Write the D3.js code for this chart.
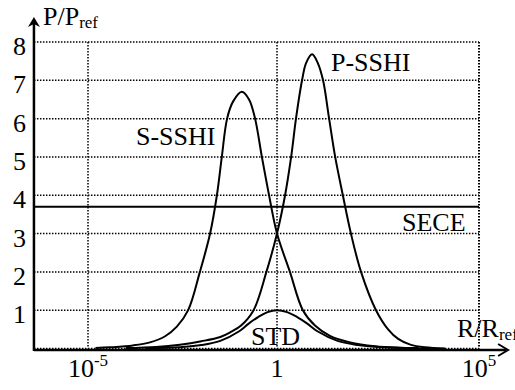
<!DOCTYPE html>
<html>
<head>
<meta charset="utf-8">
<script src="https://cdn.jsdelivr.net/npm/d3@7"></script>
<style>
  body { margin: 0; background: #fff; }
</style>
</head>
<body>
<div id="chart"></div>
<script>
// values, x in log10(R/Rref)
var yTicks = [1, 2, 3, 4, 5, 6, 7, 8];
var xTicks = [-5, 0, 5];

var sLogR = [-4.8, -4.42, -3.81, -3.36, -2.96, -2.65, -2.35, -2.04, -1.77, -1.59, -1.46, -1.32, -1.16, -0.93, -0.74, -0.58, -0.40, -0.21, 0, 0.32, 0.64, 0.94, 1.31, 1.81, 2.43, 3.04, 3.8];
var sP    = [0.01, 0.03, 0.08, 0.16, 0.32, 0.57, 1, 2, 3, 4, 5, 6, 6.45, 6.7, 6.5, 6, 5, 4, 3, 2, 1, 0.6, 0.33, 0.16, 0.06, 0.02, 0];

var pLogR = [-4.0, -3.2, -2.57, -2.0, -1.5, -1.24, -0.95, -0.62, -0.28, 0, 0.20, 0.35, 0.47, 0.62, 0.72, 0.87, 1.01, 1.14, 1.29, 1.44, 1.63, 1.83, 2.08, 2.45, 2.75, 3.0, 3.3, 3.66, 4.16];
var pP    = [0.01, 0.04, 0.1, 0.19, 0.3, 0.42, 0.6, 1, 2, 3, 4, 5, 6, 7, 7.45, 7.68, 7.45, 7, 6, 5, 4, 3, 2, 1, 0.5, 0.25, 0.1, 0.03, 0];

var stdLogR = [-3.5, -2.5, -2.0, -1.5, -1.0, -0.75, -0.5, -0.25, 0, 0.25, 0.5, 0.75, 1.0, 1.5, 2.0, 2.5, 3.5];
var stdP    = [0.01, 0.04, 0.09, 0.2, 0.45, 0.65, 0.82, 0.95, 1, 0.95, 0.82, 0.65, 0.45, 0.2, 0.09, 0.04, 0.01];

var seceP = 3.7;

var xStart = -6.43, xEnd = 5.72, yTop = 8.65;

var font = "'Liberation Serif', 'Times New Roman', serif";

var width = 515, height = 390;
var svg = d3.select("#chart").append("svg")
    .attr("width", width)
    .attr("height", height)
    .attr("font-family", font);

var x = d3.scaleLinear()
    .domain([-5, 0, 5])
    .range([88, 277, 479]);

var y = d3.scaleLinear()
    .domain([0, 8])
    .range([348.5, 42]);

// grid
svg.selectAll(".hgrid")
    .data([0].concat(yTicks))
    .enter()
    .append("line")
    .attr("x1", x(xStart))
    .attr("x2", x(5))
    .attr("y1", function (d) { return y(d); })
    .attr("y2", function (d) { return y(d); })
    .attr("stroke", "#000")
    .attr("stroke-width", 1.5)
    .attr("stroke-dasharray", "1.5,1.5");

svg.selectAll(".vgrid")
    .data(xTicks)
    .enter()
    .append("line")
    .attr("x1", function (d) { return x(d); })
    .attr("x2", function (d) { return x(d); })
    .attr("y1", y(8))
    .attr("y2", y(0))
    .attr("stroke", "#000")
    .attr("stroke-width", function (d) { return d == 5 ? 2 : 1.5; })
    .attr("stroke-dasharray", "1.5,1.5");

// SECE
svg.append("line")
    .attr("x1", x(xStart))
    .attr("x2", x(5))
    .attr("y1", y(seceP))
    .attr("y2", y(seceP))
    .attr("stroke", "#000")
    .attr("stroke-width", 2);

var line = d3.line()
    .x(function (d) { return x(d[0]); })
    .y(function (d) { return Math.min(y(d[1]), y(0)); })
    .curve(d3.curveCatmullRom.alpha(0.5));

var series = [
    d3.zip(sLogR, sP),
    d3.zip(pLogR, pP),
    d3.zip(stdLogR, stdP)
];

svg.selectAll(".curve")
    .data(series)
    .enter()
    .append("path")
    .attr("d", line)
    .attr("fill", "none")
    .attr("stroke", "#000")
    .attr("stroke-width", 2);

// axes
svg.append("line")
    .attr("x1", x(xStart))
    .attr("x2", x(xEnd) - 2)
    .attr("y1", y(0) + 1.5)
    .attr("y2", y(0) + 1.5)
    .attr("stroke", "#000")
    .attr("stroke-width", 2.5);

svg.append("line")
    .attr("x1", x(xStart))
    .attr("x2", x(xStart))
    .attr("y1", y(0) + 2.5)
    .attr("y2", y(yTop) + 3)
    .attr("stroke", "#000")
    .attr("stroke-width", 2.5);

var ax = x(xStart), ay = y(yTop);
svg.append("path")
    .attr("d", "M" + ax + "," + ay + "L" + (ax - 6) + "," + (ay + 10) + "L" + ax + "," + (ay + 7) + "L" + (ax + 6) + "," + (ay + 10) + "Z")
    .attr("fill", "#000");

var bx = x(xEnd), by = y(0) + 1.5;
svg.append("path")
    .attr("d", "M" + (bx - 10) + "," + (by - 6) + "L" + bx + "," + by + "L" + (bx - 10) + "," + (by + 6))
    .attr("fill", "none")
    .attr("stroke", "#000")
    .attr("stroke-width", 2);

// tick labels
svg.selectAll(".ylab")
    .data(yTicks)
    .enter()
    .append("text")
    .attr("x", 26)
    .attr("y", function (d) { return y(d) + 13; })
    .attr("text-anchor", "end")
    .attr("font-size", 26)
    .text(function (d) { return d; });

var xl = svg.selectAll(".xlab")
    .data(xTicks)
    .enter()
    .append("text")
    .attr("x", function (d) { return x(d); })
    .attr("y", 377)
    .attr("text-anchor", "middle")
    .attr("font-size", 26);
xl.append("tspan")
    .text(function (d) { return d == 0 ? "1" : "10"; });
xl.append("tspan")
    .attr("font-size", 17)
    .attr("dy", -11)
    .text(function (d) { return d == 0 ? "" : d; });

// axis titles
var pt = svg.append("text").attr("x", 43).attr("y", 25).attr("font-size", 26);
pt.append("tspan").text("P/P");
pt.append("tspan").attr("font-size", 17).attr("dy", 3).text("ref");

var rt = svg.append("text").attr("x", 457).attr("y", 337).attr("font-size", 26);
rt.append("tspan").text("R/R");
rt.append("tspan").attr("font-size", 17).attr("dy", 3).text("ref");

// curve labels
svg.append("text").attr("x", 136).attr("y", 145).attr("font-size", 26).text("S-SSHI");
svg.append("text").attr("x", 331).attr("y", 71).attr("font-size", 26).text("P-SSHI");
svg.append("text").attr("x", 402).attr("y", 231).attr("font-size", 26).text("SECE");
svg.append("text").attr("x", 251).attr("y", 345).attr("font-size", 26).text("STD");
</script>
</body>
</html>
